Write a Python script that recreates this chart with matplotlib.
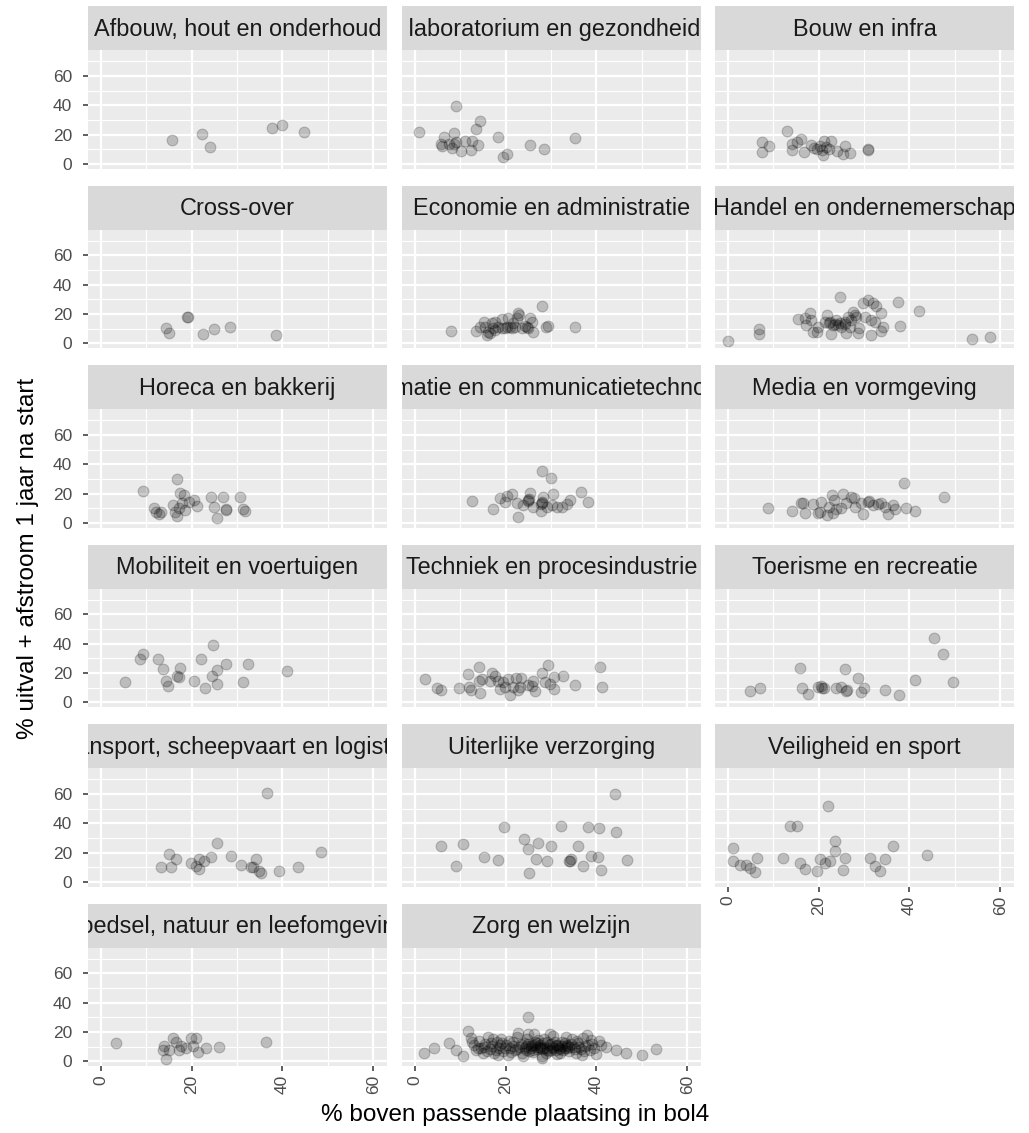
import matplotlib
matplotlib.use("Agg")
import matplotlib.pyplot as plt

plt.rcParams['font.family'] = ['Liberation Sans', 'DejaVu Sans']

# ---- data per sector (x = % boven passende plaatsing, y = % uitval + afstroom) ----
afbouw_x = [15.7, 22.2, 24.0, 37.8, 39.9, 44.7]
afbouw_y = [16.2, 20.3, 11.9, 24.7, 26.9, 22.1]

ambacht_x = [0.9, 9.0, 14.3, 13.5, 8.7, 6.3, 5.9, 5.7, 9.0, 8.7, 8.2, 10.1, 11.0, 12.5,
             12.4, 13.8, 18.2, 20.2, 19.3, 25.4, 28.5, 35.3, 7.4]
ambacht_y = [21.9, 39.5, 29.2, 24.0, 21.2, 18.3, 12.6, 13.9, 14.8, 13.9, 11.0, 8.7, 15.5, 15.5,
             9.8, 12.8, 18.5, 7.1, 4.8, 12.8, 10.5, 17.6, 13.9]

bouw_x = [7.5, 9.0, 7.5, 12.9, 14.1, 15.1, 16.2, 14.2, 16.8, 18.2, 19.7, 21.2, 20.7, 20.2,
          20.9, 22.8, 22.2, 24.1, 25.7, 25.4, 27.0, 30.9, 30.9, 21.5, 19.0]
bouw_y = [15.1, 12.6, 8.2, 22.4, 13.9, 14.8, 16.7, 9.4, 8.2, 12.8, 10.5, 15.5, 9.4, 12.1,
          6.4, 15.5, 10.5, 8.7, 12.1, 7.1, 7.5, 9.4, 10.0, 11.5, 11.0]

cross_x = [14.4, 14.9, 19.0, 19.1, 22.5, 25.0, 28.4, 38.6]
cross_y = [10.3, 6.9, 18.4, 18.0, 6.4, 9.7, 11.0, 5.5]

econ_x = [7.9, 13.4, 28.1, 35.3, 29.4, 28.8, 26.1, 15.1, 15.4, 16.2, 15.8, 16.9, 17.3, 17.6,
          18.4, 19.1, 19.1, 20.2, 21.0, 21.7, 22.4, 22.8, 22.9, 22.1, 23.5, 24.3, 24.6, 25.4,
          25.7, 25.0, 16.5, 17.6, 19.9, 21.3, 14.3, 20.6]
econ_y = [8.7, 8.5, 25.7, 11.0, 12.2, 11.0, 8.0, 14.9, 11.5, 8.0, 5.7, 13.8, 10.3, 14.9,
          11.5, 16.6, 10.3, 11.5, 11.5, 13.8, 17.2, 20.7, 19.5, 11.5, 10.3, 12.0, 11.5, 17.2,
          14.9, 10.3, 6.9, 9.2, 10.3, 10.3, 11.5, 17.2]

handel_x = [0.0, 6.8, 6.8, 15.4, 17.3, 18.0, 18.8, 19.7, 18.2, 24.6, 21.9, 22.4, 22.6, 23.2,
            23.9, 24.6, 25.7, 26.5, 26.8, 26.1, 27.6, 28.3, 28.7, 29.8, 30.9, 32.0, 32.7, 30.1,
            31.6, 32.4, 33.8, 34.2, 33.7, 31.5, 37.5, 37.9, 42.1, 53.7, 57.7, 21.3, 22.2, 23.5,
            24.3, 25.0, 25.7, 27.2, 27.9, 28.8, 16.9, 19.9]
handel_y = [1.8, 9.9, 6.4, 16.6, 12.6, 20.7, 8.0, 8.0, 16.1, 31.7, 19.5, 14.9, 6.4, 12.6,
            16.1, 13.8, 14.9, 18.4, 11.5, 7.4, 21.8, 18.4, 6.9, 27.6, 29.9, 27.6, 25.7, 18.4,
            16.1, 14.9, 20.7, 11.5, 8.7, 5.7, 28.3, 12.2, 22.3, 2.8, 4.6, 14.9, 13.8, 13.3,
            12.6, 11.5, 13.3, 16.1, 19.5, 10.3, 17.2, 11.5]

horeca_x = [9.2, 16.8, 11.6, 12.2, 12.7, 13.2, 17.5, 18.4, 17.9, 15.9, 16.4, 16.8, 17.1, 18.6,
            20.5, 21.1, 19.4, 24.3, 27.0, 30.6, 25.0, 27.5, 27.6, 25.5, 31.4, 31.7]
horeca_y = [21.9, 29.9, 10.5, 7.8, 6.2, 7.8, 20.3, 19.2, 13.4, 12.3, 7.8, 5.0, 10.0, 8.9,
            15.7, 11.8, 14.6, 17.5, 18.0, 17.5, 11.2, 8.9, 9.2, 3.2, 9.6, 8.4]

ict_x = [12.5, 17.3, 22.8, 28.1, 29.9, 18.8, 20.2, 21.3, 22.4, 23.9, 25.0, 25.1, 24.8, 25.4,
         27.9, 28.0, 27.7, 27.8, 28.3, 30.5, 30.1, 31.3, 32.4, 33.5, 34.2, 36.6, 38.1, 26.1,
         29.0, 19.9]
ict_y = [15.0, 9.6, 4.3, 35.5, 31.0, 16.9, 18.5, 19.8, 13.9, 12.3, 15.7, 16.3, 15.2, 20.3,
         13.4, 14.0, 12.9, 8.4, 18.0, 19.8, 12.3, 11.2, 11.2, 13.0, 15.7, 21.0, 14.6, 11.2,
         11.2, 14.6]

media_x = [8.8, 14.0, 16.0, 16.9, 16.5, 18.8, 19.9, 20.6, 20.2, 21.9, 22.9, 23.4, 22.2, 23.9,
           25.4, 26.1, 27.2, 27.8, 27.9, 29.8, 30.9, 31.0, 32.0, 33.8, 34.6, 35.3, 36.4, 36.9,
           38.8, 39.3, 41.3, 47.6, 23.2, 25.0, 29.4, 33.1]
media_y = [10.5, 8.4, 13.4, 6.6, 13.4, 13.0, 6.6, 14.6, 7.7, 5.5, 19.1, 15.7, 11.2, 9.3,
           19.8, 13.4, 18.0, 16.9, 11.2, 6.2, 14.6, 15.2, 12.5, 13.9, 11.2, 6.2, 12.5, 9.3,
           27.1, 10.5, 8.2, 18.0, 7.1, 10.0, 13.4, 13.0]

mobiliteit_x = [5.3, 8.6, 9.2, 12.5, 13.6, 14.4, 14.8, 16.8, 17.1, 17.4, 20.6, 22.1, 23.0, 24.7,
                24.5, 25.5, 25.5, 27.5, 31.4, 32.5, 41.1]
mobiliteit_y = [14.3, 29.4, 32.9, 29.9, 23.0, 14.5, 11.0, 18.4, 17.2, 23.7, 14.9, 29.4, 9.9, 39.5,
                18.4, 22.3, 12.6, 26.0, 13.8, 26.4, 21.8]

techniek_x = [2.1, 4.8, 5.7, 9.6, 11.6, 14.0, 11.9, 12.4, 14.3, 14.1, 14.7, 16.9, 17.6, 18.4,
              18.8, 19.5, 20.6, 21.0, 21.7, 22.2, 23.2, 23.4, 22.8, 24.9, 25.7, 26.5, 26.1, 27.9,
              28.7, 29.3, 29.8, 30.7, 30.7, 32.7, 35.3, 40.8, 41.2, 16.5, 19.9]
techniek_y = [16.1, 9.9, 8.7, 9.9, 19.5, 24.1, 10.3, 8.5, 6.2, 14.9, 16.1, 20.0, 18.4, 14.9,
              9.2, 13.8, 16.1, 5.3, 10.3, 16.8, 10.3, 16.8, 8.5, 12.2, 11.5, 8.0, 14.9, 20.0,
              13.8, 25.3, 12.6, 9.2, 17.2, 18.4, 12.2, 24.1, 10.3, 14.9, 10.3]

toerisme_x = [4.8, 7.1, 15.8, 16.4, 17.6, 19.9, 20.6, 20.7, 21.2, 23.7, 25.0, 25.7, 26.1, 26.3,
              28.7, 30.0, 29.4, 34.6, 37.6, 41.2, 45.4, 47.3, 49.6]
toerisme_y = [7.6, 9.7, 23.7, 9.7, 5.7, 10.3, 11.5, 9.9, 9.7, 9.7, 10.3, 23.0, 8.0, 8.4,
              16.6, 9.9, 6.9, 8.5, 5.1, 15.4, 43.7, 32.9, 13.8]

transport_x = [13.2, 15.0, 16.6, 15.5, 21.6, 21.6, 22.7, 24.3, 25.6, 28.7, 30.9, 33.1, 34.2, 34.9,
               35.3, 36.6, 39.3, 43.5, 48.6, 33.6, 19.9, 21.0]
transport_y = [10.2, 19.1, 15.7, 10.2, 15.7, 8.9, 14.3, 17.1, 26.6, 17.7, 11.6, 10.2, 15.7, 7.5,
               6.1, 60.8, 7.5, 10.2, 20.5, 10.2, 13.0, 10.9]

uiterlijk_x = [5.7, 9.1, 10.6, 15.2, 18.3, 19.6, 24.1, 25.0, 25.2, 27.2, 29.0, 30.0, 32.2, 34.0,
               34.4, 36.0, 37.1, 38.2, 38.9, 40.4, 40.6, 41.1, 44.4, 44.0, 46.8, 34.2, 26.7]
uiterlijk_y = [24.6, 10.9, 25.9, 17.1, 15.0, 37.5, 29.4, 22.5, 6.1, 26.6, 14.3, 24.6, 38.2, 14.3,
               15.7, 24.6, 10.9, 37.5, 17.7, 17.1, 36.9, 8.2, 34.1, 60.1, 15.0, 14.3, 15.7]

veiligheid_x = [1.1, 1.1, 2.6, 4.0, 4.9, 6.0, 6.4, 12.1, 13.7, 15.2, 15.9, 17.0, 22.1, 23.6,
                23.6, 20.3, 21.4, 22.5, 25.8, 25.4, 31.3, 32.5, 33.6, 34.7, 36.4, 43.9, 19.6]
veiligheid_y = [23.2, 14.3, 11.6, 11.6, 9.6, 6.8, 16.4, 16.4, 38.2, 38.2, 13.0, 8.9, 52.0, 28.0,
                21.2, 15.7, 13.0, 14.3, 16.4, 8.2, 16.4, 10.9, 7.5, 15.7, 24.6, 18.4, 7.5]

voedsel_x = [3.3, 13.9, 14.3, 15.0, 15.9, 16.6, 17.2, 17.7, 18.8, 19.9, 20.3, 21.0, 21.4, 23.2,
             26.0, 36.4, 13.7]
voedsel_y = [12.5, 10.9, 2.0, 7.5, 15.7, 13.0, 7.5, 10.9, 8.9, 15.7, 10.9, 15.7, 6.8, 8.9,
             10.2, 13.0, 7.5]

zorg_x = [2.0, 4.2, 7.5, 9.0, 11.7, 12.3, 25.0, 42.2, 44.4, 46.6, 50.0, 53.2, 40.5, 38.0, 10.5,
          13.0, 13.5, 14.0, 14.5, 15.0, 15.5, 16.0, 16.5, 17.0, 17.5, 18.0, 18.5, 19.0, 19.5,
          20.0, 20.5, 21.0, 21.5, 22.0, 22.5, 23.0, 23.5, 24.0, 24.5, 25.0, 25.5, 26.0, 26.5,
          27.0, 27.5, 28.0, 28.5, 29.0, 29.5, 30.0, 30.5, 31.0, 31.5, 32.0, 32.5, 33.0, 33.5,
          34.0, 34.5, 35.0, 35.5, 36.0, 36.5, 37.0, 37.5, 38.5, 39.0, 39.5, 40.0, 41.0,
          13.8, 15.2, 16.7, 17.8, 18.8, 19.8, 20.7, 21.6, 22.4, 23.3, 24.2, 25.1, 25.9, 26.8,
          27.6, 28.3, 29.2, 30.1, 30.9, 31.8, 32.7, 33.6, 34.4, 35.3, 36.2, 37.2, 38.1, 28.8,
          27.2, 26.3, 24.7, 22.8, 21.2, 19.2, 17.3, 15.8, 12.6, 33.2, 35.8, 29.7, 31.3, 23.8,
          27.9, 36.9, 18.2, 38.8,
          24.5, 25.5, 26.5, 27.5, 28.5, 29.5, 30.5, 31.5, 32.5, 33.5, 25.0, 27.0, 29.0, 31.0,
          33.0, 26.0, 28.0, 30.0, 32.0, 34.0]
zorg_y = [6.0, 9.5, 12.5, 8.0, 21.0, 16.0, 30.5, 10.0, 7.5, 5.5, 4.5, 8.5, 14.0, 18.0, 4.0,
          11.0, 7.5, 14.0, 9.0, 5.5, 12.0, 17.0, 8.5, 10.5, 6.0, 13.0, 9.5, 15.5, 7.0,
          11.5, 4.5, 9.0, 13.5, 7.5, 16.5, 10.0, 5.5, 12.5, 8.0, 18.5, 10.5, 6.5, 13.0,
          8.5, 11.0, 4.0, 15.0, 9.5, 7.0, 12.0, 17.5, 8.0, 10.5, 5.5, 13.5, 9.0, 11.5,
          7.0, 15.5, 10.0, 6.0, 12.5, 8.5, 16.0, 10.5, 7.5, 12.0, 9.0, 5.0, 11.0,
          9.5, 10.0, 12.5, 8.0, 11.0, 9.0, 14.0, 10.5, 8.5, 12.0, 9.5, 7.0, 11.5, 10.0,
          9.0, 12.5, 8.0, 10.0, 13.0, 9.5, 8.0, 10.5, 12.0, 8.5, 10.0, 7.0, 11.0, 6.0,
          14.5, 19.0, 15.0, 19.5, 6.5, 12.5, 15.0, 7.0, 13.0, 17.0, 14.0, 19.0, 5.0, 3.5,
          2.5, 4.5, 4.5, 14.5,
          10.5, 9.0, 11.0, 10.0, 9.5, 11.5, 9.5, 11.5, 10.5, 9.0, 12.0, 12.5, 13.0, 11.0,
          12.5, 8.0, 8.5, 7.5, 8.5, 10.0]

sectoren = ["Afbouw, hout en onderhoud", "Ambacht, laboratorium en gezondheidstechniek",
            "Bouw en infra", "Cross-over", "Economie en administratie",
            "Handel en ondernemerschap", "Horeca en bakkerij",
            "Informatie en communicatietechnologie", "Media en vormgeving",
            "Mobiliteit en voertuigen", "Techniek en procesindustrie", "Toerisme en recreatie",
            "Transport, scheepvaart en logistiek", "Uiterlijke verzorging", "Veiligheid en sport",
            "Voedsel, natuur en leefomgeving", "Zorg en welzijn"]
reeksen = [(afbouw_x, afbouw_y), (ambacht_x, ambacht_y), (bouw_x, bouw_y), (cross_x, cross_y),
           (econ_x, econ_y), (handel_x, handel_y), (horeca_x, horeca_y), (ict_x, ict_y),
           (media_x, media_y), (mobiliteit_x, mobiliteit_y), (techniek_x, techniek_y),
           (toerisme_x, toerisme_y), (transport_x, transport_y), (uiterlijk_x, uiterlijk_y),
           (veiligheid_x, veiligheid_y), (voedsel_x, voedsel_y), (zorg_x, zorg_y)]

W, H = 1029, 1133
fig = plt.figure(figsize=(W / 100, H / 100), dpi=100)


def px_axes(left, top, right, bottom):
    return fig.add_axes([left / W, 1 - bottom / H, (right - left) / W, (bottom - top) / H])


col_left = [88, 402, 715]
col_w = 299
n = len(sectoren)

for i, (naam, (xs, ys)) in enumerate(zip(sectoren, reeksen)):
    r, c = divmod(i, 3)
    left = col_left[c]
    strip_top = 6 + 179.5 * r
    strip_bot = 50 + 179.5 * r
    panel_bot = 168.5 + 179.5 * r

    # strip met (afgekapte) titel
    sax = px_axes(left, strip_top, left + col_w, strip_bot)
    sax.set_facecolor("#D9D9D9")
    sax.set_xticks([])
    sax.set_yticks([])
    for s in sax.spines.values():
        s.set_visible(False)
    sax.text(0.5, 0.47, naam, ha="center", va="center", fontsize=16.9,
             color="#1A1A1A", clip_on=True, transform=sax.transAxes)

    ax = px_axes(left, strip_bot, left + col_w, panel_bot)
    ax.set_facecolor("#EBEBEB")
    for s in ax.spines.values():
        s.set_visible(False)
    ax.set_xlim(-2.87, 63.05)
    ax.set_ylim(-3.07, 77.7)
    ax.set_xticks([0, 20, 40, 60])
    ax.set_xticks([10, 30, 50], minor=True)
    ax.set_yticks([0, 20, 40, 60])
    ax.set_yticks([10, 30, 50, 70], minor=True)
    ax.grid(which="major", color="white", lw=1.6)
    ax.grid(which="minor", color="white", lw=0.8)
    ax.set_axisbelow(True)
    ax.tick_params(which="minor", length=0)
    ax.tick_params(which="major", color="#333333", length=3.6, width=1.1,
                   labelsize=12.5, labelcolor="#4D4D4D")

    if c == 0:
        ax.tick_params(axis="y", pad=8)
    else:
        ax.tick_params(axis="y", length=0, labelleft=False)

    onderste = i + 3 >= n
    if onderste:
        ax.tick_params(axis="x", labelrotation=90, pad=3)
    else:
        ax.tick_params(axis="x", length=0, labelbottom=False)

    ax.scatter(xs, ys, s=60, c="black", alpha=0.2, edgecolors="black", linewidths=0.8)

fig.text(515 / W, 1 - 1115 / H, "% boven passende plaatsing in bol4",
         ha="center", va="center", fontsize=17.5, color="black")
fig.text(28 / W, 1 - 558 / H, "% uitval + afstroom 1 jaar na start",
         ha="center", va="center", rotation=90, fontsize=17.5, color="black")

fig.savefig("out.png", dpi=100)
